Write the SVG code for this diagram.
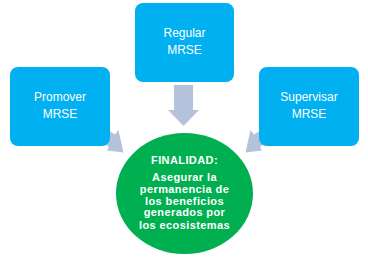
<svg xmlns="http://www.w3.org/2000/svg" width="368" height="258" viewBox="0 0 368 258">
<style>
.box{fill:#00B0F0}
.arr{fill:#B4C2DC}
.lbl{font-family:"Liberation Sans",Arial,sans-serif;font-size:12px;fill:#fff;text-anchor:middle}
.ctr{font-family:"Liberation Sans",Arial,sans-serif;font-size:11px;font-weight:bold;fill:#fff;text-anchor:middle;letter-spacing:0.4px}
</style>
<rect width="368" height="258" fill="#fff"/>
<g id="connectors">
<polygon class="arr" points="174,85 193,85 193,110 199,110 183.5,126 168,110 174,110"/>
<polygon class="arr" points="100,125 115,134.5 118.5,130 123.5,152.5 107,150.5 109,147 100,140"/>
<polygon class="arr" points="269,125 254,134.5 250.5,130 245.5,152.5 262,150.5 260,147 269,140"/>
</g>
<g id="regular">
<rect class="box" x="135" y="3" width="99" height="79" rx="8"/>
<text class="lbl" x="184.5" y="37">Regular</text>
<text class="lbl" x="184.5" y="54">MRSE</text>
</g>
<g id="promover">
<rect class="box" x="10" y="67" width="100" height="79" rx="8"/>
<text class="lbl" x="60" y="101">Promover</text>
<text class="lbl" x="60" y="118">MRSE</text>
</g>
<g id="supervisar">
<rect class="box" x="259" y="67" width="100" height="79" rx="8"/>
<text class="lbl" x="309" y="101">Supervisar</text>
<text class="lbl" x="309" y="118">MRSE</text>
</g>
<g id="finalidad">
<ellipse cx="184.5" cy="193.5" rx="68.5" ry="60.5" fill="#00B050"/>
<text class="ctr" x="184.5" y="163.5">FINALIDAD:</text>
<text class="ctr" x="184.5" y="181">Asegurar la</text>
<text class="ctr" x="184.5" y="192.5">permanencia de</text>
<text class="ctr" x="184.5" y="204.5">los beneficios</text>
<text class="ctr" x="184.5" y="216">generados por</text>
<text class="ctr" x="184.5" y="228.5">los ecosistemas</text>
</g>
</svg>
